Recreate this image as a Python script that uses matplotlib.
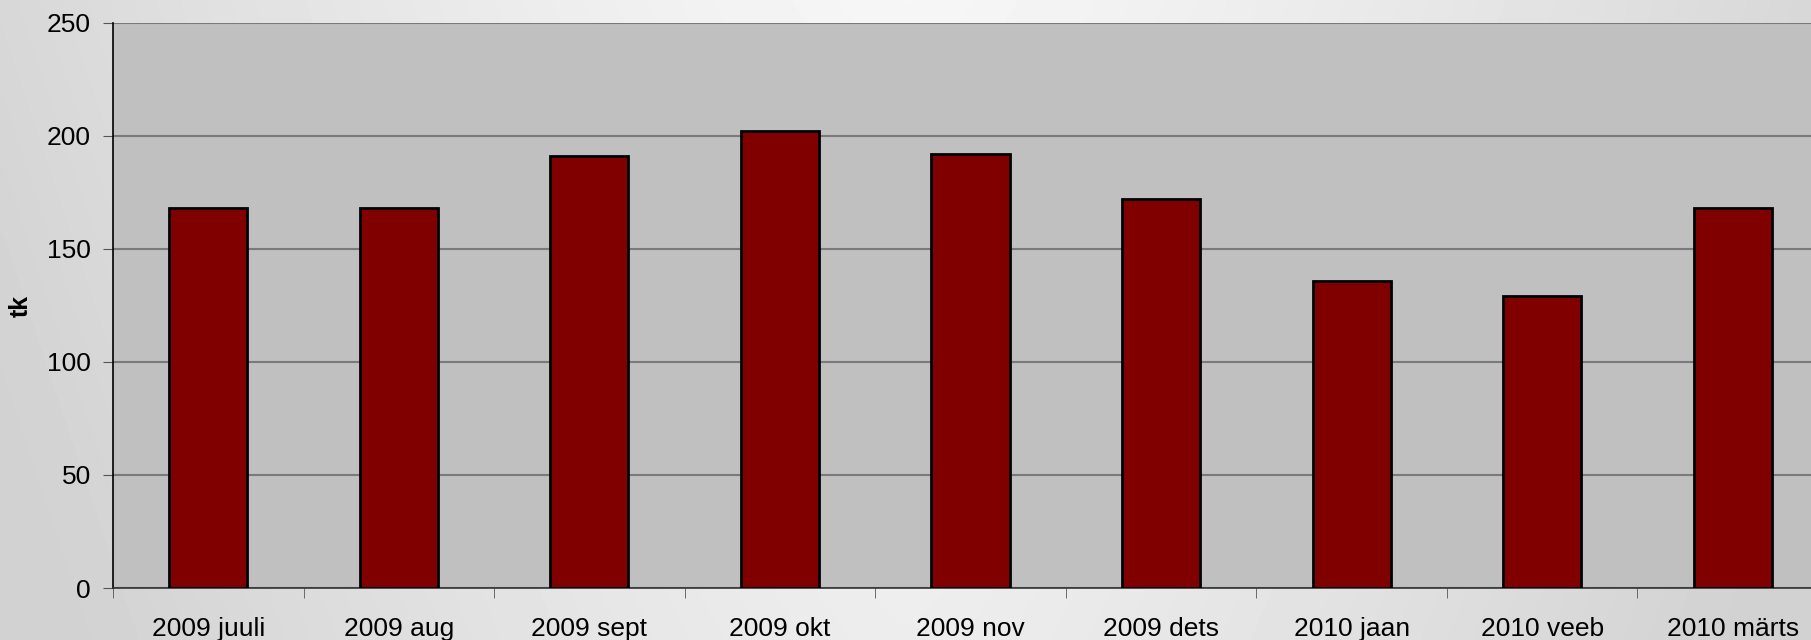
import numpy as np
import matplotlib
matplotlib.use('Agg')
import matplotlib.pyplot as plt

months = ['2009 juuli', '2009 aug', '2009 sept', '2009 okt', '2009 nov',
          '2009 dets', '2010 jaan', '2010 veeb', '2010 märts']
counts = [168, 168, 191, 202, 192, 172, 136, 129, 168]
y_ticks = [0, 50, 100, 150, 200, 250]

plt.rcParams['font.family'] = ['Liberation Sans', 'DejaVu Sans']

W, H = 1811, 640
fig = plt.figure(figsize=(W / 100, H / 100), dpi=100)

# background gradient (light in the middle, darker at the sides)
bg = fig.add_axes([0, 0, 1, 1], zorder=-10)
xx = np.linspace(-1, 1, 400)
yy = np.linspace(-1, 1, 150)
X, Y = np.meshgrid(xx, yy)
shade = 0.965 - 0.12 * np.clip(np.abs(X) ** 1.3 + 0.15 * (Y + 1), 0, 1.2)
bg.imshow(shade, cmap='gray', vmin=0, vmax=1, aspect='auto',
          extent=[0, 1, 0, 1], interpolation='bicubic')
bg.set_axis_off()

left, right, top, bottom = 113, 1811, 23, 588
ax = fig.add_axes([left / W, 1 - bottom / H, (right - left) / W, (bottom - top) / H])
ax.set_facecolor('#c0c0c0')

x = np.arange(len(months))
ax.bar(x, counts, width=0.41, color='#800000', edgecolor='black',
       linewidth=2, zorder=3)

ax.set_yticks(y_ticks)
ax.yaxis.grid(True, color='#7a7a7a', linewidth=1.5, zorder=1)
ax.set_axisbelow(True)

ax.set_xticks(x)
ax.set_xticklabels(months)
ax.set_xticks(np.arange(-0.5, 8.0, 1.0), minor=True)
ax.tick_params(axis='x', which='major', length=0, pad=21, labelsize=19)
ax.tick_params(axis='x', which='minor', length=7, direction='out', color='#555555')
ax.tick_params(axis='y', length=7, direction='out', color='#555555', pad=9,
               labelsize=19)

# chart is cut at the right edge, a bit before the last category boundary
ax.set_ylim(0, 250)
ax.set_xlim(-0.5, 8.5 - 17 / 190.5)

for s in ['top', 'right']:
    ax.spines[s].set_visible(False)
ax.spines['left'].set_color('black')
ax.spines['left'].set_linewidth(1.2)
ax.spines['bottom'].set_color('#333333')
ax.spines['bottom'].set_linewidth(1.2)

ax.set_ylabel('tk', fontsize=18, fontweight='bold')
ax.yaxis.set_label_coords((33 - left) / (right - left), 0.5)

fig.savefig('out.png', dpi=100)
